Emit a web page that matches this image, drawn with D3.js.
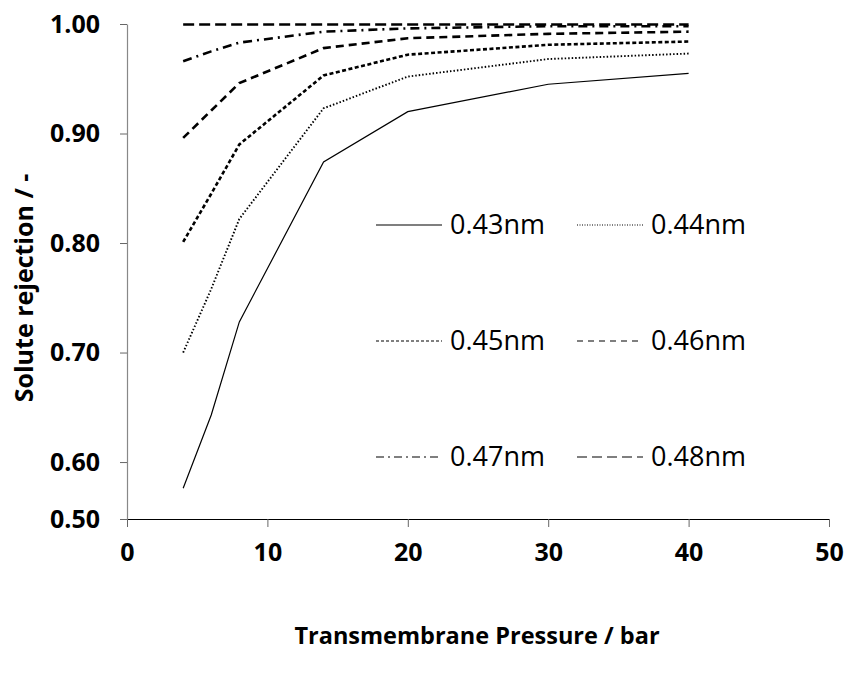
<!DOCTYPE html>
<html>
<head>
<meta charset="utf-8">
<script src="https://cdn.jsdelivr.net/npm/d3@7"></script>
<style>
  body { margin: 0; background: #fff; }
  text { font-family: "Open Sans", sans-serif; }
</style>
</head>
<body>
<script>
// Data
let pressures = [4, 6, 8, 14, 20, 30, 40];
let r043 = [0.576, 0.643, 0.728, 0.874, 0.920, 0.945, 0.955];
let r044 = [0.700, 0.758, 0.822, 0.923, 0.952, 0.968, 0.973];
let r045 = [0.801, 0.845, 0.890, 0.953, 0.972, 0.981, 0.984];
let r046 = [0.896, 0.921, 0.946, 0.978, 0.987, 0.991, 0.993];
let r047 = [0.966, 0.975, 0.983, 0.993, 0.996, 0.998, 0.998];
let r048 = [0.9995, 0.9995, 0.9995, 0.9996, 0.9996, 0.9996, 0.9996];
let seriesNames = ["0.43nm", "0.44nm", "0.45nm", "0.46nm", "0.47nm", "0.48nm"];
let xTicks = [0, 10, 20, 30, 40, 50];
let yTicks = [0.548, 0.6, 0.7, 0.8, 0.9, 1.0];
let yTickLabels = ["0.50", "0.60", "0.70", "0.80", "0.90", "1.00"];

let width = 847;
let height = 677;
let margin = { top: 24, bottom: 158, left: 127, right: 18 };

let svg = d3
  .select("body")
  .append("svg")
  .attr("width", width)
  .attr("height", height);

let xScale = d3
  .scaleLinear()
  .domain([0, 50])
  .range([margin.left, width - margin.right]);

let yScale = d3
  .scaleLinear()
  .domain([yTicks[0], 1.0])
  .range([height - margin.bottom, margin.top]);

// line styles per series
let styles = [
  { width: 1.2, dash: null },
  { width: 1.9, dash: "1.5,2" },
  { width: 2.6, dash: "4,2.5" },
  { width: 2.6, dash: "8,5" },
  { width: 2.6, dash: "9,5,2,5" },
  { width: 2.4, dash: "11,5" },
];
let legendStyles = [null, "1,1.5", "3,2", "6,5", "8,4,2,4", "10,5"];

let allSeries = [r043, r044, r045, r046, r047, r048].map((vals, i) => ({
  name: seriesNames[i],
  values: vals.map((v, j) => ({ x: pressures[j], y: v })),
  style: styles[i],
  legendDash: legendStyles[i],
}));

// Axes
let xAxis = svg
  .append("g")
  .attr("transform", `translate(0, ${height - margin.bottom})`)
  .call(d3.axisBottom(xScale).tickValues(xTicks).tickSize(8).tickSizeOuter(0).tickPadding(16));

xAxis.select(".domain").attr("stroke", "#000").attr("stroke-width", 1.2);
xAxis.selectAll(".tick line").attr("stroke", "#666");
xAxis
  .selectAll("text")
  .style("font-size", "25px")
  .style("font-weight", "bold")
  .attr("fill", "#000");

let yAxis = svg
  .append("g")
  .attr("transform", `translate(${margin.left}, 0)`)
  .call(
    d3
      .axisLeft(yScale)
      .tickValues(yTicks)
      .tickFormat((d, i) => yTickLabels[i])
      .tickSize(7)
      .tickSizeOuter(0)
      .tickPadding(20),
  );

yAxis.select(".domain").attr("stroke", "#888").attr("stroke-width", 1.2);
yAxis.selectAll(".tick line").attr("stroke", "#666");
yAxis
  .selectAll("text")
  .style("font-size", "25px")
  .style("font-weight", "bold")
  .attr("fill", "#000");

// Axis titles
svg
  .append("text")
  .attr("x", 477)
  .attr("y", 644)
  .text("Transmembrane Pressure / bar")
  .style("text-anchor", "middle")
  .style("font-size", "23.5px")
  .style("font-weight", "bold");

svg
  .append("text")
  .attr("transform", "rotate(-90)")
  .attr("x", -288)
  .attr("y", 33)
  .text("Solute rejection / -")
  .style("text-anchor", "middle")
  .style("font-size", "25px")
  .style("font-weight", "bold");

// Lines
let line = d3
  .line()
  .x((d) => xScale(d.x))
  .y((d) => yScale(d.y));

svg
  .selectAll(".series")
  .data(allSeries)
  .join("path")
  .attr("class", "series")
  .attr("d", (d) => line(d.values))
  .attr("fill", "none")
  .attr("stroke", "#000")
  .attr("stroke-width", (d) => d.style.width)
  .attr("stroke-dasharray", (d) => d.style.dash);

// Legend: 2 columns x 3 rows
let legendCols = [376, 577];
let legendRows = [225, 341, 457];

let legend = svg
  .selectAll(".legend")
  .data(allSeries)
  .join("g")
  .attr("class", "legend")
  .attr("transform", (d, i) => `translate(${legendCols[i % 2]}, ${legendRows[Math.floor(i / 2)]})`);

legend
  .append("line")
  .attr("x1", 0)
  .attr("x2", 66)
  .attr("y1", 0)
  .attr("y2", 0)
  .attr("stroke", "#000")
  .attr("stroke-width", 1.2)
  .attr("stroke-dasharray", (d) => d.legendDash);

legend
  .append("text")
  .attr("x", 74)
  .attr("y", 0)
  .attr("dy", "0.35em")
  .text((d) => d.name)
  .style("font-size", "27px");
</script>
</body>
</html>
